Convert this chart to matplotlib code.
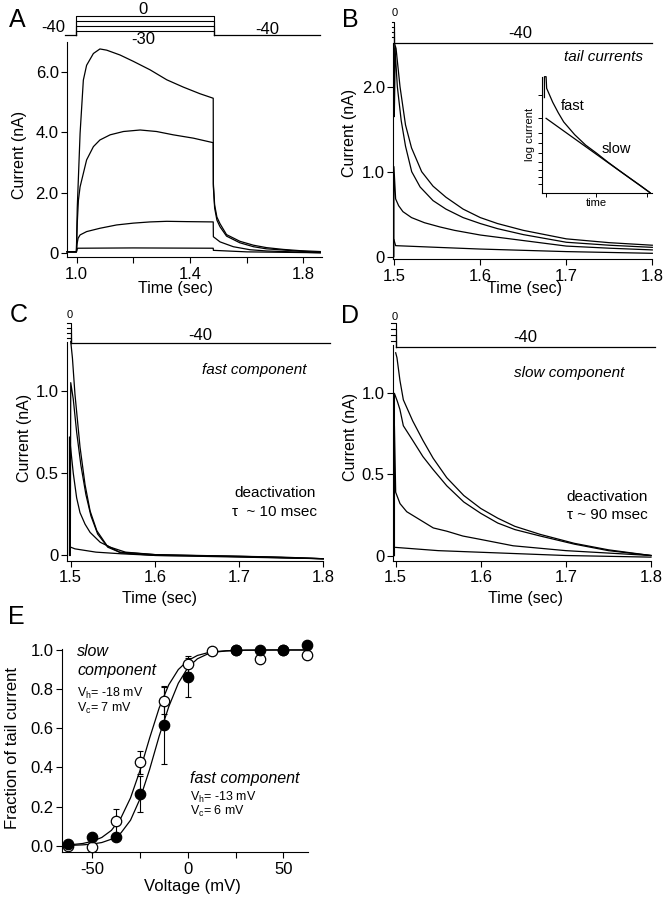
import matplotlib
matplotlib.use("Agg")
import matplotlib.pyplot as plt
from matplotlib.ticker import FixedLocator

plt.rcParams.update({
    "font.family": ["Liberation Sans", "DejaVu Sans"],
    "axes.unicode_minus": False,
    "mathtext.fontset": "custom",
    "mathtext.rm": "Liberation Sans",
    "axes.linewidth": 0.8,
})

W, H = 672, 900

# ---------------- panel A: currents during test pulses (sec, nA) ----------------
A_T1 = [0.966, 0.999, 1.002, 1.012, 1.0235, 1.035, 1.059, 1.082, 1.106, 1.153, 1.2, 1.259,
        1.318, 1.376, 1.435, 1.482, 1.4825, 1.487, 1.495, 1.506, 1.529, 1.576, 1.624, 1.67,
        1.73, 1.788, 1.86]
A_I1 = [0.05, 0.05, 1.5, 3.97, 5.73, 6.22, 6.61, 6.76, 6.72, 6.56, 6.35, 6.07,
        5.74, 5.5, 5.28, 5.13, 2.3, 1.6, 1.2, 0.98, 0.62, 0.4, 0.27, 0.19,
        0.13, 0.09, 0.06]
A_T2 = [0.966, 0.999, 1.002, 1.006, 1.012, 1.035, 1.059, 1.082, 1.118, 1.165, 1.224, 1.282,
        1.341, 1.412, 1.482, 1.4825, 1.487, 1.495, 1.506, 1.529, 1.576, 1.624, 1.67, 1.73,
        1.788, 1.86]
A_I2 = [0.05, 0.05, 1.0, 1.75, 2.2, 3.09, 3.53, 3.75, 3.92, 4.03, 4.08, 4.03,
        3.92, 3.81, 3.66, 2.2, 1.5, 1.1, 0.88, 0.57, 0.35, 0.22, 0.15, 0.11,
        0.07, 0.04]
A_T3 = [0.966, 0.999, 1.001, 1.005, 1.012, 1.035, 1.082, 1.141, 1.2, 1.259, 1.318, 1.388,
        1.482, 1.4825, 1.506, 1.553, 1.612, 1.67, 1.788, 1.86]
A_I3 = [0.05, 0.05, 0.3, 0.5, 0.61, 0.72, 0.83, 0.94, 1.0, 1.04, 1.06, 1.05,
        1.04, 0.55, 0.38, 0.22, 0.12, 0.08, 0.04, 0.02]
A_T4 = [0.966, 0.999, 1.003, 1.2, 1.482, 1.4825, 1.6, 1.86]
A_I4 = [0.05, 0.05, 0.17, 0.18, 0.17, 0.1, 0.05, 0.02]

# voltage protocol (mV)
STEP_LEVELS = [0, -10, -20, -30]
HOLD_V = -40
A_HOLD_START, A_PULSE_ON, A_PULSE_OFF, A_HOLD_END = 0.958, 0.9965, 1.485, 1.858

# ---------------- panel B: tail currents ----------------
B_T1 = [1.5, 1.5005, 1.502, 1.5066, 1.513, 1.52, 1.5318, 1.545, 1.56, 1.58, 1.6, 1.62,
        1.65, 1.7, 1.75, 1.8]
B_I1 = [1.65, 2.5, 2.45, 2.0, 1.55, 1.28, 1.0, 0.83, 0.7, 0.56, 0.46, 0.39,
        0.31, 0.21, 0.165, 0.135]
B_T2 = [1.5, 1.5008, 1.5035, 1.508, 1.513, 1.5202, 1.53, 1.545, 1.56, 1.58, 1.6, 1.62,
        1.65, 1.7, 1.75, 1.8]
B_I2 = [1.65, 2.45, 2.0, 1.6, 1.3, 1.0, 0.82, 0.66, 0.56, 0.46, 0.39, 0.33,
        0.26, 0.17, 0.135, 0.11]
B_T3 = [1.4995, 1.4995, 1.5015, 1.505, 1.51, 1.52, 1.535, 1.553, 1.57, 1.6, 1.65, 1.7,
        1.75, 1.8]
B_I3 = [0.0, 1.06, 0.68, 0.6, 0.53, 0.46, 0.4, 0.35, 0.31, 0.255, 0.19, 0.125,
        0.1, 0.08]
B_T4 = [1.4995, 1.5015, 1.55, 1.6, 1.65, 1.7, 1.8]
B_I4 = [0.2, 0.13, 0.11, 0.09, 0.075, 0.06, 0.04]
TAIL_START, TAIL_END = 1.5, 1.8
B_PRE = 1.497

# inset: log current vs time (arbitrary units)
INSET_FAST_X = [0.025, 0.025, 0.04, 0.045, 0.1, 0.15, 0.2, 0.3, 0.4, 0.5, 0.6, 0.7, 0.8, 0.9, 0.985]
INSET_FAST_Y = [0.82, 1.0, 1.0, 0.9, 0.78, 0.69, 0.61, 0.5, 0.41, 0.34, 0.265, 0.195, 0.127, 0.06, 0.0]
INSET_SLOW_X = [0.04, 0.985]
INSET_SLOW_Y = [0.641, 0.0]
INSET_YTICKS = [0.842, 0.641, 0.517, 0.425, 0.339, 0.267, 0.195, 0.138, 0.075]
INSET_XTICKS = [0.04, 0.494, 0.955]

# ---------------- panel C: fast component ----------------
C_T1 = [1.5, 1.502, 1.505, 1.511, 1.517, 1.523, 1.531, 1.543, 1.558, 1.6, 1.65, 1.7, 1.75, 1.8]
C_I1 = [1.3, 1.2, 0.98, 0.66, 0.43, 0.27, 0.15, 0.06, 0.02, 0.005, 0.0, -0.005, -0.01, -0.02]
C_T2 = [1.4995, 1.5, 1.503, 1.507, 1.512, 1.518, 1.524, 1.532, 1.544, 1.56, 1.6, 1.7, 1.8]
C_I2 = [0.0, 1.05, 0.95, 0.75, 0.55, 0.37, 0.24, 0.13, 0.05, 0.015, 0.0, -0.005, -0.02]
C_T3 = [1.4985, 1.4985, 1.503, 1.507, 1.511, 1.517, 1.523, 1.535, 1.547, 1.565, 1.6, 1.8]
C_I3 = [0.0, 0.72, 0.5, 0.35, 0.26, 0.19, 0.14, 0.08, 0.05, 0.02, 0.005, -0.02]
C_T4 = [1.5, 1.505, 1.53, 1.56, 1.6, 1.8]
C_I4 = [0.05, 0.04, 0.02, 0.01, 0.0, -0.02]
C_PRE = 1.4956

# ---------------- panel D: slow component ----------------
D_T1 = [1.5, 1.5015, 1.505, 1.509, 1.52, 1.532, 1.544, 1.56, 1.58, 1.6, 1.62, 1.64,
        1.67, 1.71, 1.75, 1.8]
D_I1 = [1.25, 1.22, 1.08, 0.96, 0.83, 0.71, 0.6, 0.48, 0.37, 0.29, 0.23, 0.18,
        0.13, 0.075, 0.035, 0.0]
D_T2 = [1.4985, 1.4985, 1.502, 1.505, 1.509, 1.52, 1.532, 1.544, 1.56, 1.58, 1.6, 1.62,
        1.64, 1.67, 1.71, 1.75, 1.8]
D_I2 = [0.0, 1.0, 0.95, 0.9, 0.8, 0.71, 0.61, 0.53, 0.43, 0.33, 0.26, 0.2,
        0.16, 0.12, 0.07, 0.03, 0.0]
D_T3 = [1.4985, 1.4985, 1.5, 1.5051, 1.513, 1.5286, 1.5442, 1.56, 1.579, 1.599, 1.638,
        1.7, 1.8]
D_I3 = [0.0, 0.8, 0.39, 0.32, 0.27, 0.22, 0.17, 0.15, 0.12, 0.1, 0.06, 0.03, 0.0]
D_T4 = [1.5, 1.55, 1.6, 1.7, 1.8]
D_I4 = [0.05, 0.03, 0.02, 0.0, -0.01]
D_PRE = 1.4945

# ---------------- panel E: activation curves ----------------
E_V = [-62.5, -50, -37.5, -25, -12.5, 0, 12.5, 25, 37.5, 50, 62.5]
E_SLOW = [0.0, -0.005, 0.125, 0.426, 0.741, 0.927, 0.995, 1.0, 0.955, 1.0, 0.975]
E_SLOW_ERR = [0, 0, 0.06, 0.06, 0.07, 0.04, 0, 0, 0, 0, 0]
E_FAST = [0.007, 0.046, 0.043, 0.264, 0.617, 0.86, float("nan"), 1.0, 1.0, 1.0, 1.024]
E_FAST_ERR = [0, 0, 0, 0.09, 0.2, 0.1, 0, 0, 0, 0, 0]
FIT_V = [-66, -60, -55, -50, -45, -40, -35, -30, -25, -20, -15, -10, -5, 0, 5, 10, 15, 20, 30, 45, 62.5]
FIT_SLOW = [0.003, 0.006, 0.011, 0.022, 0.042, 0.078, 0.142, 0.244, 0.385, 0.55, 0.704, 0.822,
            0.9, 0.946, 0.972, 0.985, 0.992, 0.996, 0.999, 1.0, 1.0]
FIT_FAST = [0.001, 0.002, 0.004, 0.008, 0.016, 0.033, 0.065, 0.13, 0.24, 0.39, 0.56, 0.71,
            0.83, 0.91, 0.955, 0.978, 0.99, 0.995, 0.999, 1.0, 1.0]


def px_axes(fig, box):
    x0, y0, x1, y1 = box
    return fig.add_axes([x0 / W, 1 - y1 / H, (x1 - x0) / W, (y1 - y0) / H])


def ftext(fig, x, y, s, **kw):
    kw.setdefault("ha", "center")
    kw.setdefault("va", "center")
    fig.text(x / W, 1 - y / H, s, **kw)


def style(ax):
    for s in ("top", "right"):
        ax.spines[s].set_visible(False)
    ax.tick_params(which="both", direction="out", width=0.8, length=4, labelsize=12)
    ax.tick_params(axis="x", which="both", pad=3)
    ax.tick_params(axis="y", which="both", pad=2)


def labels(ax, box, xlab, xpos, ylab, ypos, size=11.5):
    x0, y0, x1, y1 = box
    ax.set_xlabel(xlab, fontsize=size, va="center")
    ax.xaxis.set_label_coords((xpos[0] - x0) / (x1 - x0), (y1 - xpos[1]) / (y1 - y0))
    ax.set_ylabel(ylab, fontsize=size, va="center")
    ax.yaxis.set_label_coords((ypos[0] - x0) / (x1 - x0), (y1 - ypos[1]) / (y1 - y0))


def traces(ax, pairs):
    for t, i in pairs:
        ax.plot(t, i, color="black", lw=0.9, clip_on=False)


def tail_protocol(fig, box, xlim, ylim, t_pre, t_end):
    ax = px_axes(fig, box)
    ax.set_xlim(xlim)
    ax.set_ylim(ylim)
    ax.axis("off")
    for v in STEP_LEVELS:
        ax.plot([t_pre, TAIL_START, TAIL_START], [v, v, HOLD_V], color="black", lw=0.8, clip_on=False)
    ax.plot([TAIL_START, t_end], [HOLD_V, HOLD_V], color="black", lw=0.9, clip_on=False)
    return ax


fig = plt.figure(figsize=(W / 100, H / 100), dpi=100)

# ---- A ----
box_a = (67, 42, 322, 257)
ax = px_axes(fig, box_a)
style(ax)
traces(ax, [(A_T1, A_I1), (A_T2, A_I2), (A_T3, A_I3), (A_T4, A_I4)])
ax.set_xlim(0.9658, 1.866)
ax.set_ylim(-0.12, 6.99)
ax.set_xticks([1.0, 1.4, 1.8])
ax.set_xticklabels(["1.0", "1.4", "1.8"])
ax.xaxis.set_minor_locator(FixedLocator([1.2, 1.6]))
ax.set_yticks([0, 2, 4, 6])
ax.set_yticklabels(["0", "2.0", "4.0", "6.0"])
labels(ax, box_a, "Time (sec)", (176, 289), "Current (nA)", (20, 155))

pa = px_axes(fig, (67, 6, 322, 46))
pa.set_xlim(0.9658, 1.866)
pa.set_ylim(-62, 21)
pa.axis("off")
for v in STEP_LEVELS:
    pa.plot([A_PULSE_ON, A_PULSE_ON, A_PULSE_OFF, A_PULSE_OFF], [HOLD_V, v, v, HOLD_V],
            color="black", lw=0.8, clip_on=False)
pa.plot([A_HOLD_START, A_PULSE_ON], [HOLD_V, HOLD_V], color="black", lw=0.9, clip_on=False)
pa.plot([A_PULSE_OFF, A_HOLD_END], [HOLD_V, HOLD_V], color="black", lw=0.9, clip_on=False)
ftext(fig, 143, 10, "0", fontsize=12)
ftext(fig, 143, 40, "-30", fontsize=12)
ftext(fig, 65, 27, "-40", fontsize=12, ha="right")
ftext(fig, 267, 30, "-40", fontsize=12)

# ---- B ----
box_b = (393.3, 43, 652.3, 259)
ax = px_axes(fig, box_b)
style(ax)
traces(ax, [(B_T1, B_I1), (B_T2, B_I2), (B_T3, B_I3), (B_T4, B_I4)])
ax.set_xlim(1.4988, 1.8)
ax.set_ylim(-0.027, 2.514)
ax.set_xticks([1.5, 1.6, 1.7, 1.8])
ax.set_yticks([0, 1, 2])
ax.set_yticklabels(["0", "1.0", "2.0"])
labels(ax, box_b, "Time (sec)", (525, 289), "Current (nA)", (350, 133))
tail_protocol(fig, (393.3, 6, 652.3, 46), (1.4988, 1.8), (-46.8, 31.2), B_PRE, TAIL_END)
ftext(fig, 395, 13, "0", fontsize=8)
ftext(fig, 520, 33, "-40", fontsize=12)
ftext(fig, 643, 57, "tail currents", fontsize=11, style="italic", ha="right")

box_i = (541.7, 76.7, 651.7, 192.7)
ins = px_axes(fig, box_i)
for s in ("top", "right"):
    ins.spines[s].set_visible(False)
ins.plot(INSET_FAST_X, INSET_FAST_Y, color="black", lw=0.9, clip_on=False)
ins.plot(INSET_SLOW_X, INSET_SLOW_Y, color="black", lw=0.9, clip_on=False)
ins.set_xlim(0, 1)
ins.set_ylim(0, 1)
ins.set_xticks(INSET_XTICKS)
ins.set_yticks(INSET_YTICKS)
ins.tick_params(direction="out", length=3, width=0.7, labelbottom=False, labelleft=False)
ins.set_xlabel("time", fontsize=8, labelpad=1)
ins.set_ylabel("log current", fontsize=8, labelpad=2)
ftext(fig, 573, 106, "fast", fontsize=10.5)
ftext(fig, 616, 149, "slow", fontsize=10.5)

# ---- C ----
box_c = (66.7, 342, 323.3, 560.7)
ax = px_axes(fig, box_c)
style(ax)
traces(ax, [(C_T1, C_I1), (C_T2, C_I2), (C_T3, C_I3), (C_T4, C_I4)])
ax.set_xlim(1.4952, 1.8)
ax.set_ylim(-0.032, 1.297)
ax.set_xticks([1.5, 1.6, 1.7, 1.8])
ax.set_yticks([0, 0.5, 1.0])
ax.set_yticklabels(["0", "0.5", "1.0"])
labels(ax, box_c, "Time (sec)", (160, 599), "Current (nA)", (25, 438))
tail_protocol(fig, (66.7, 306, 323.3, 346), (1.4952, 1.8), (-46.7, 34.5), C_PRE, 1.8077)
ftext(fig, 70, 315, "0", fontsize=8)
ftext(fig, 200, 335, "-40", fontsize=12)
ftext(fig, 254, 370, "fast component", fontsize=11, style="italic")
ftext(fig, 275, 493, "deactivation", fontsize=11)
ftext(fig, 275, 512, "τ  ~ 10 msec", fontsize=11)

# ---- D ----
box_d = (392.7, 345, 651, 560.7)
ax = px_axes(fig, box_d)
style(ax)
traces(ax, [(D_T1, D_I1), (D_T2, D_I2), (D_T3, D_I3), (D_T4, D_I4)])
ax.set_xlim(1.4965, 1.8)
ax.set_ylim(-0.032, 1.298)
ax.set_xticks([1.5, 1.6, 1.7, 1.8])
ax.set_yticks([0, 0.5, 1.0])
ax.set_yticklabels(["0", "0.5", "1.0"])
labels(ax, box_d, "Time (sec)", (525, 599), "Current (nA)", (351, 437))
tail_protocol(fig, (392.7, 306, 651, 350), (1.4965, 1.8), (-45.6, 28.7), D_PRE, 1.8047)
ftext(fig, 395, 317, "0", fontsize=8)
ftext(fig, 525, 337, "-40", fontsize=12)
ftext(fig, 569, 373, "slow component", fontsize=11, style="italic")
ftext(fig, 607, 497, "deactivation", fontsize=11)
ftext(fig, 607, 515, "τ ~ 90 msec", fontsize=11)

# ---- E ----
box_e = (61.7, 649, 308.3, 852.3)
ax = px_axes(fig, box_e)
style(ax)
ax.plot(FIT_V, FIT_SLOW, color="black", lw=0.9, zorder=2)
ax.plot(FIT_V, FIT_FAST, color="black", lw=0.9, zorder=2)
ax.errorbar(E_V, E_SLOW, yerr=E_SLOW_ERR, fmt="none", ecolor="black", elinewidth=0.8,
            capsize=2.5, capthick=0.8, zorder=3, clip_on=False)
ax.errorbar(E_V, E_FAST, yerr=E_FAST_ERR, fmt="none", ecolor="black", elinewidth=0.8,
            capsize=2.5, capthick=0.8, zorder=3, clip_on=False)
ax.plot(E_V, E_SLOW, "o", ms=7.5, mfc="white", mec="black", mew=0.9, ls="none",
        zorder=4, clip_on=False)
ax.plot(E_V, E_FAST, "o", ms=7.5, mfc="black", mec="black", mew=0.9, ls="none",
        zorder=5, clip_on=False)
ax.set_xlim(-66, 63)
ax.set_ylim(-0.034, 1.005)
ax.set_xticks([-50, 0, 50])
ax.xaxis.set_minor_locator(FixedLocator([-25, 25]))
ax.set_yticks([0, 0.2, 0.4, 0.6, 0.8, 1.0])
ax.set_yticklabels(["0.0", "0.2", "0.4", "0.6", "0.8", "1.0"])
labels(ax, box_e, "Voltage (mV)", (192, 887), "Fraction of tail current", (13, 748), size=12)
ftext(fig, 77, 652, "slow", fontsize=11.5, style="italic", ha="left")
ftext(fig, 77, 670, "component", fontsize=11.5, style="italic", ha="left")
ftext(fig, 77, 693, r"V$_{\mathrm{h}}$= -18 mV", fontsize=9, ha="left")
ftext(fig, 77, 708, r"V$_{\mathrm{c}}$= 7 mV", fontsize=9, ha="left")
ftext(fig, 190, 778, "fast component", fontsize=11.5, style="italic", ha="left")
ftext(fig, 190, 797, r"V$_{\mathrm{h}}$= -13 mV", fontsize=9, ha="left")
ftext(fig, 190, 811, r"V$_{\mathrm{c}}$= 6 mV", fontsize=9, ha="left")

# panel letters
for letter, x, y in [("A", 17, 20), ("B", 350, 20), ("C", 19, 315), ("D", 350, 316), ("E", 16, 617)]:
    ftext(fig, x, y, letter, fontsize=18)

fig.savefig("out.png", dpi=100, facecolor="white")
